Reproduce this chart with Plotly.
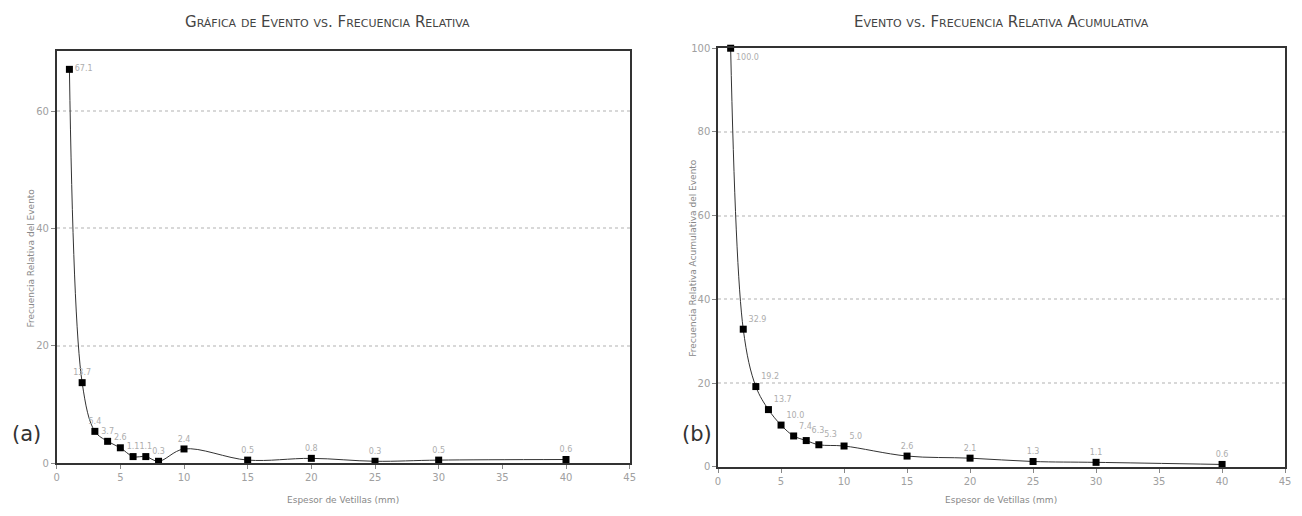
import plotly.graph_objects as go

# ---- data ----
espesor = [1, 2, 3, 4, 5, 6, 7, 8, 10, 15, 20, 25, 30, 40]
frec_rel = [67.1, 13.7, 5.4, 3.7, 2.6, 1.1, 1.1, 0.3, 2.4, 0.5, 0.8, 0.3, 0.5, 0.6]
frec_rel_labels = ["67.1", "13.7", "5.4", "3.7", "2.6", "1.1", "1.1", "0.3", "2.4", "0.5", "0.8", "0.3", "0.5", "0.6"]
frec_acum = [100.0, 32.9, 19.2, 13.7, 10.0, 7.4, 6.3, 5.3, 5.0, 2.6, 2.1, 1.3, 1.1, 0.6]
frec_acum_labels = ["100.0", "32.9", "19.2", "13.7", "10.0", "7.4", "6.3", "5.3", "5.0", "2.6", "2.1", "1.3", "1.1", "0.6"]

title_a = "Gráfica de Evento vs. Frecuencia Relativa"
title_b = "Evento vs. Frecuencia Relativa Acumulativa"
xtitle = "Espesor de Vetillas (mm)"
ytitle_a = "Frecuencia Relativa del Evento"
ytitle_b = "Frecuencia Relativa Acumulativa del Evento"


def small_caps(s, small=11):
    out = []
    buf = ""
    for ch in s:
        if ch.islower():
            buf += ch.upper()
        else:
            if buf:
                out.append('<span style="font-size:%spx">%s</span>' % (small, buf))
                buf = ""
            out.append(ch)
    if buf:
        out.append('<span style="font-size:%spx">%s</span>' % (small, buf))
    return "".join(out)


# page is 1302x516; the html body has an 8px margin, so the figure sits at (8, 8)
PW, PH = 1302, 516
OFF = 8
W, H = PW - OFF, PH - OFF
FONT = "DejaVu Sans"
LINE = "#333333"
LBL = "#adadad"


def fx(X):
    return (X - OFF) / W


def fy(Y):
    return 1 - (Y - OFF) / H


fig = go.Figure()

pos_a = ["middle right"] + ["top center"] * (len(espesor) - 1)
pos_b = ["bottom right"] + ["top right"] * 8 + ["top center"] * (len(espesor) - 9)

fig.add_trace(go.Scatter(
    x=espesor, y=frec_rel, text=frec_rel_labels, mode="lines+markers+text",
    line=dict(shape="spline", smoothing=1.0, color=LINE, width=1),
    marker=dict(symbol="square", size=7, color="black"),
    textposition=pos_a, textfont=dict(family=FONT, size=8, color=LBL),
    cliponaxis=False, xaxis="x", yaxis="y", showlegend=False))

fig.add_trace(go.Scatter(
    x=espesor, y=frec_acum, text=frec_acum_labels, mode="lines+markers+text",
    line=dict(shape="spline", smoothing=1.0, color=LINE, width=1),
    marker=dict(symbol="square", size=7, color="black"),
    textposition=pos_b, textfont=dict(family=FONT, size=8, color=LBL),
    cliponaxis=False, xaxis="x2", yaxis="y2", showlegend=False))

axis_common = dict(
    showline=True, linecolor=LINE, linewidth=1.5, mirror=True,
    ticks="outside", ticklen=4, tickcolor="#888", zeroline=False,
    tickfont=dict(family=FONT, size=10, color="#a0a0a0"),
)

xa = [fx(54), fx(631)]
xb = [fx(720), fx(1291)]
ya = [fy(468), fy(47)]
yb = [fy(472), fy(44)]

fig.update_layout(
    width=W, height=H, margin=dict(l=0, r=0, t=0, b=0),
    paper_bgcolor="white", plot_bgcolor="white",
    xaxis=dict(domain=xa, range=[0, 45], dtick=5, showgrid=False, anchor="y", **axis_common),
    yaxis=dict(domain=ya, range=[0, 70.2], dtick=20, showgrid=True, gridcolor="#d8d8d8",
               griddash="dot", gridwidth=1.5, anchor="x", **axis_common),
    xaxis2=dict(domain=xb, range=[0, 45], dtick=5, showgrid=False, anchor="y2", **axis_common),
    yaxis2=dict(domain=yb, range=[0, 100], dtick=20, showgrid=True, gridcolor="#d8d8d8",
                griddash="dot", gridwidth=1.5, anchor="x2", **axis_common),
)

ann = []


def px(X, Y, text, size, color, angle=0, xanchor="center", yanchor="middle"):
    ann.append(dict(x=fx(X), y=fy(Y), xref="paper", yref="paper", text=text,
                    showarrow=False, textangle=angle, xanchor=xanchor, yanchor=yanchor,
                    font=dict(family=FONT, size=size, color=color)))


px(327, 17, small_caps(title_a), 15, "#444444")
px(1005, 17, small_caps(title_b), 15, "#444444")
px(342, 506, xtitle, 9, "#888888")
px(1005, 506, xtitle, 9, "#888888")
px(28, 258, ytitle_a, 9, "#888888", angle=-90)
px(694, 258, ytitle_b, 9, "#888888", angle=-90)
px(7, 438, "(a)", 21, "#333333", xanchor="left")
px(682, 438, "(b)", 21, "#333333", xanchor="left")

fig.update_layout(annotations=ann)

fig.write_html("out.html")
